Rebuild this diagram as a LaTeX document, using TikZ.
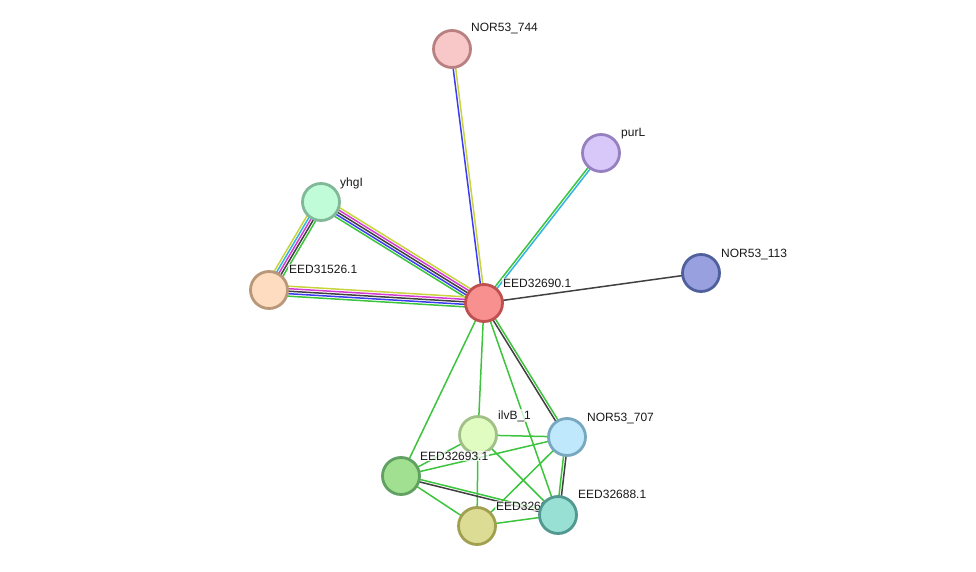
\documentclass[tikz,border=0pt]{standalone}
\usepackage{fontspec}
\setmainfont{Liberation Sans}
\usetikzlibrary{calc,backgrounds}
\definecolor{eg}{HTML}{3CC43C}
\definecolor{ey}{HTML}{C8D43E}
\definecolor{em}{HTML}{D53AD5}
\definecolor{ec}{HTML}{33B4E0}
\definecolor{eb}{HTML}{3C3CF0}
\definecolor{ek}{HTML}{404040}
\tikzset{
  prot/.style={circle,minimum size=37pt,inner sep=0pt,line width=2.8pt},
  lbl/.style={anchor=base west,inner sep=1pt,fill=white,fill opacity=0.75,text opacity=1,font=\fontsize{12}{14}\selectfont,text=black!90},
}
\newcommand\pedge[4]{%
  \foreach \col [count=\i] in {#4}{%
    \pgfmathsetmacro\off{(\i-1-(#3-1)/2)*2.5}%
    \draw[\col,line width=1.5pt] ($(#1.center)!\off pt!90:(#2.center)$) -- ($(#2.center)!\off pt!-90:(#1.center)$);
  }%
}
\begin{document}
\begin{tikzpicture}[x=1pt,y=-1pt]
\useasboundingbox (0,0) rectangle (976,572);
% nodes and labels
\node[prot,fill={rgb,255:red,248;green,200;blue,200},draw={rgb,255:red,184;green,128;blue,128}] (n744) at (452,49) {};
\node[lbl] (l744) at (470,32) {NOR53\_744};
\node[prot,fill={rgb,255:red,216;green,200;blue,250},draw={rgb,255:red,150;green,128;blue,192}] (purL) at (601,153) {};
\node[lbl] (lpurL) at (620,137) {purL};
\node[prot,fill={rgb,255:red,192;green,252;blue,216},draw={rgb,255:red,128;green,184;blue,152}] (yhgI) at (321,202) {};
\node[lbl] (lyhgI) at (339,186) {yhgI};
\node[prot,fill={rgb,255:red,253;green,220;blue,192},draw={rgb,255:red,184;green,152;blue,120}] (e31526) at (269,290) {};
\node[lbl] (l31526) at (288,273) {EED31526.1};
\node[prot,fill={rgb,255:red,248;green,144;blue,144},draw={rgb,255:red,192;green,80;blue,80}] (c) at (484,303) {};
\node[lbl] (lc) at (502,287) {EED32690.1};
\node[prot,fill={rgb,255:red,152;green,160;blue,224},draw={rgb,255:red,80;green,96;blue,156}] (n113) at (701,273) {};
\node[lbl] (l113) at (720,257) {NOR53\_113};
\node[prot,fill={rgb,255:red,224;green,252;blue,192},draw={rgb,255:red,160;green,192;blue,136}] (ilvB) at (478,435) {};
\node[lbl] (lilvB) at (497,419) {ilvB\_1};
\node[prot,fill={rgb,255:red,192;green,232;blue,252},draw={rgb,255:red,120;green,168;blue,192}] (n707) at (567,437) {};
\node[lbl] (l707) at (586,421) {NOR53\_707};
\node[prot,fill={rgb,255:red,160;green,224;blue,144},draw={rgb,255:red,96;green,160;blue,96}] (e93) at (401,476) {};
\node[lbl] (l93) at (419,460) {EED32693.1};
\node[prot,fill={rgb,255:red,220;green,220;blue,148},draw={rgb,255:red,160;green,160;blue,80}] (e89) at (477,526) {};
\node[lbl] (l89) at (495,510) {EED32689.1};
\node[prot,fill={rgb,255:red,152;green,224;blue,212},draw={rgb,255:red,80;green,152;blue,144}] (e88) at (558,515) {};
\node[lbl] (l88) at (577,498) {EED32688.1};
% edges
\begin{scope}[on background layer]
\pedge{c}{n744}{2}{ey,eb}
\pedge{c}{purL}{2}{ec,eg}
\pedge{c}{n113}{1}{ek}
\pedge{yhgI}{e31526}{5}{ey,ec,em,ek,eg}
\pedge{yhgI}{c}{5}{eg,eb,ek,em,ey}
\pedge{e31526}{c}{5}{eg,eb,ek,em,ey}
\pedge{c}{ilvB}{1}{eg}
\pedge{c}{e93}{1}{eg}
\pedge{c}{n707}{2}{ek,eg}
\pedge{c}{e88}{1}{eg}
\pedge{ilvB}{n707}{1}{eg}
\pedge{ilvB}{e89}{1}{eg}
\pedge{ilvB}{e88}{1}{eg}
\pedge{e93}{ilvB}{1}{eg}
\pedge{e93}{n707}{1}{eg}
\pedge{e93}{e88}{2}{ek,eg}
\pedge{e93}{e89}{1}{eg}
\pedge{n707}{e88}{2}{eg,ek}
\pedge{n707}{e89}{1}{eg}
\pedge{e89}{e88}{1}{eg}
\end{scope}
\end{tikzpicture}
\end{document}
